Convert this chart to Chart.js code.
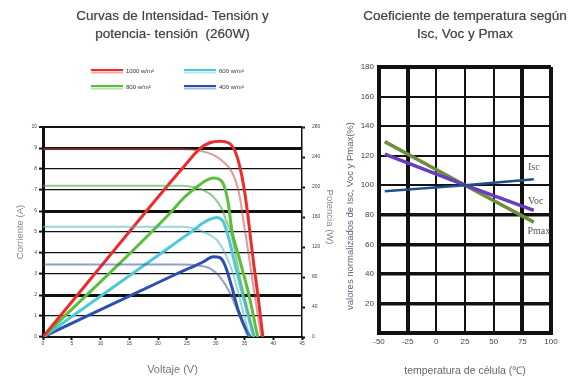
<!DOCTYPE html>
<html><head><meta charset="utf-8">
<script src="https://cdn.jsdelivr.net/npm/chart.js@4.4.1/dist/chart.umd.min.js"></script>
<style>
body{margin:0;background:#fff;}
#wrap{position:relative;width:569px;height:381px;overflow:hidden;background:#fff}
canvas{position:absolute;top:0}
.title{position:absolute;text-align:center;font-family:'Liberation Sans',Arial,sans-serif;font-size:13.5px;line-height:18px;color:#454545;white-space:nowrap;text-shadow:0 0 1px #888}
</style></head><body>
<div id="wrap">
<canvas id="c1" width="345" height="381" style="left:0"></canvas>
<canvas id="c2" width="239" height="381" style="left:330px"></canvas>
<div class="title" style="left:0;width:345px;top:6.5px">Curvas de Intensidad- Tensión y<br>potencia- tensión&nbsp; (260W)</div>
<div class="title" style="left:330px;width:270px;top:6.5px">Coeficiente de temperatura según<br>Isc, Voc y Pmax</div>
</div>
<script>
// ---------- Left chart data (I-V and P-V curves) ----------
const irradiance = ['1000 w/m²', '600 w/m²', '800 w/m²', '400 w/m²'];

const vI1000 = [0, 24, 27.3, 29.6, 31.3, 32.8, 33.6, 34.3, 34.8, 35.2, 36.5, 37.9];
const i1000  = [8.95, 8.95, 8.87, 8.67, 8.35, 7.87, 7.32, 6.52, 5.57, 4.9, 2.5, 0];
const vP1000 = [0, 22, 24.9, 27.3, 29.0, 30.7, 32.2, 33.3, 34.2, 34.9, 35.5, 36.0, 36.6, 37.4, 38.2];
const p1000  = [0, 205, 231, 251.6, 259, 261, 259, 249, 227, 200, 168, 136, 98, 52, 0];

const vI800 = [0, 24, 25.5, 27.8, 29.6, 31.0, 31.9, 32.6, 34.5, 36.8];
const i800  = [7.2, 7.2, 7.17, 7.0, 6.68, 6.13, 5.49, 5.0, 2.5, 0];
const vP800 = [0, 22.05, 24.4, 26.7, 28.4, 29.6, 30.7, 31.4, 32.2, 32.8, 34.0, 35.9, 37.3];
const p800  = [0, 165, 185, 200, 209, 212, 210, 203, 178, 143, 108, 52, 0];

const vI600 = [0, 24, 26.5, 28.4, 30.2, 31.6, 32.8, 34.4, 35.9];
const i600  = [5.25, 5.25, 5.15, 4.94, 4.62, 4.0, 3.2, 1.6, 0];
const vP600 = [0, 22.05, 24.4, 26.1, 27.6, 29.0, 30.1, 31.3, 32.2, 33.6, 35.4, 36.6];
const p600  = [0, 120, 133, 142, 151, 157, 159.5, 154, 134, 89, 36, 0];

const vI400 = [0, 24, 26.7, 29.0, 30.7, 32.5, 34.2, 35.6];
const i400  = [3.45, 3.45, 3.42, 3.27, 2.87, 2.08, 0.97, 0];
const vP400 = [0, 22.05, 25.5, 27.8, 29.6, 30.7, 31.6, 32.8, 33.9, 35.1, 36.0];
const p400  = [0, 80, 92, 100, 107, 106, 96, 67, 36, 13, 0];

const xTicksLeft = {min: 0, max: 45, step: 5};
const yTicksLeft = {min: 0, max: 10, step: 1};
const y2TicksLeft = {min: 0, max: 280, step: 40};
const thickRows = [9, 6, 2];

// ---------- Right chart data (temperature coefficients) ----------
const temps = [-45, 25, 85];
const iscVals  = [96, 100, 104];
const vocVals  = [121, 100, 83];
const pmaxVals = [129.5, 100, 75];
const seriesNames = ['Isc', 'Voc', 'Pmax'];
const xTicksRight = {min: -50, max: 100, step: 25};
const yTicksRight = {min: 0, max: 180, step: 20};

Chart.defaults.font.family = "'Liberation Sans', Arial, sans-serif";

function pts(xs, ys){ return xs.map((x,i)=>({x:x, y:ys[i]})); }
function ds(xs, ys, axis, color, w, label){
  return {label: label||'', data: pts(xs, ys), yAxisID: axis, borderColor: color, borderWidth: w,
          pointRadius: 0, fill: false, cubicInterpolationMode: 'monotone'};
}

const colors = {
  r: ['#ee2b2b', 'rgba(200,70,70,0.55)', '#f5aaaa'],
  c: ['#4fc9d9', 'rgba(70,180,195,0.55)', '#b5e6ee'],
  g: ['#5cbf3c', 'rgba(80,165,75,0.6)', '#b8e0a8'],
  b: ['#2a4fb0', 'rgba(60,80,150,0.55)', '#a9b4dc']
};

const legendPlugin = {
  id: 'lg',
  afterDraw(chart){
    const ctx = chart.ctx;
    const items = [
      [91, 71, colors.r, irradiance[0]],
      [184, 71, colors.c, irradiance[1]],
      [91, 87, colors.g, irradiance[2]],
      [184, 87, colors.b, irradiance[3]]
    ];
    ctx.save();
    items.forEach(([x, y, col, txt]) => {
      ctx.fillStyle = col[0]; ctx.fillRect(x, y - 2, 32, 2);
      ctx.fillStyle = col[2]; ctx.fillRect(x, y + 0.5, 32, 2);
      ctx.fillStyle = '#333'; ctx.font = "6px 'Liberation Sans', Arial";
      ctx.textBaseline = 'middle'; ctx.textAlign = 'left';
      ctx.fillText(txt, x + 35, y);
    });
    // right axis title
    ctx.translate(330, 217); ctx.rotate(Math.PI/2);
    ctx.fillStyle = '#888'; ctx.font = "9.5px 'Liberation Sans', Arial";
    ctx.textAlign = 'center'; ctx.textBaseline = 'middle';
    ctx.fillText('Potencia (W)', 0, 0);
    ctx.restore();
  }
};

new Chart(document.getElementById('c1'), {
  type: 'line',
  data: { datasets: [
    ds(vI1000, i1000, 'y', colors.r[1], 2),
    ds(vI800, i800, 'y', colors.g[1], 2),
    ds(vI600, i600, 'y', colors.c[1], 2),
    ds(vI400, i400, 'y', colors.b[1], 2),
    ds(vP1000, p1000, 'y2', colors.r[0], 3, irradiance[0]),
    ds(vP800, p800, 'y2', colors.g[0], 3, irradiance[2]),
    ds(vP600, p600, 'y2', colors.c[0], 3, irradiance[1]),
    ds(vP400, p400, 'y2', colors.b[0], 3, irradiance[3])
  ]},
  options: {
    responsive: false, devicePixelRatio: 1, animation: false,
    layout: { padding: { top: 127, left: 0, right: 0, bottom: 0 } },
    plugins: { legend: { display: false }, tooltip: { enabled: false } },
    scales: {
      x: { type: 'linear', min: xTicksLeft.min, max: xTicksLeft.max,
           ticks: { stepSize: xTicksLeft.step, font: { size: 5 }, color: '#444', padding: 1, maxRotation: 0 },
           grid: { drawOnChartArea: false, tickLength: 3, tickWidth: 2, color: '#111' },
           border: { color: '#111', width: 2 },
           title: { display: true, text: 'Voltaje (V)', font: { size: 11 }, color: '#777', padding: { top: 0, bottom: 4 } },
           afterFit(s){ s.height = 44; } },
      y: { type: 'linear', position: 'left', min: yTicksLeft.min, max: yTicksLeft.max,
           ticks: { stepSize: yTicksLeft.step, font: { size: 5 }, color: '#444', padding: 2 },
           grid: { color: '#111', tickLength: 4, tickWidth: 2,
                   lineWidth: c => thickRows.includes(c.tick.value) ? 3 : (c.tick.value === 10 ? 2 : 1.2) },
           border: { color: '#111', width: 3 },
           title: { display: true, text: 'Corriente (A)', font: { size: 9.5 }, color: '#888', padding: { top: 14.3, bottom: 0 } },
           afterFit(s){ s.width = 43; } },
      y2: { type: 'linear', position: 'right', min: y2TicksLeft.min, max: y2TicksLeft.max,
            ticks: { stepSize: y2TicksLeft.step, font: { size: 5 }, color: '#444', padding: 7 },
            grid: { drawOnChartArea: false, tickLength: 3, tickWidth: 2, color: '#111' },
            border: { color: '#111', width: 1.5 },
            afterFit(s){ s.width = 43; } }
    }
  },
  plugins: [legendPlugin]
});

const rightPlugin = {
  id: 'rt',
  afterDraw(chart){
    const ctx = chart.ctx;
    ctx.save();
    // series labels near line ends
    const offs = [[0, -12], [2, -9], [5, 9]];
    ctx.font = "10px 'Liberation Serif', 'Times New Roman', serif";
    ctx.fillStyle = '#555'; ctx.textAlign = 'center'; ctx.textBaseline = 'middle';
    [0, 1, 2].forEach(i => {
      const meta = chart.getDatasetMeta(i);
      const p = meta.data[meta.data.length - 1];
      ctx.fillText(seriesNames[i], p.x + offs[i][0], p.y + offs[i][1]);
    });
    // y axis title
    ctx.translate(20, 216); ctx.rotate(-Math.PI/2);
    ctx.font = "9.5px 'Liberation Sans', Arial";
    ctx.fillStyle = '#5a6478';
    ctx.fillText('valores normalizados de Isc, Voc y Pmax(%)', 0, 0);
    ctx.restore();
  }
};

new Chart(document.getElementById('c2'), {
  type: 'line',
  data: { datasets: [
    { label: seriesNames[0], data: pts(temps, iscVals), borderColor: '#20508a', borderWidth: 2.5, pointRadius: 0 },
    { label: seriesNames[1], data: pts(temps, vocVals), borderColor: '#6a3cc0', borderWidth: 3.5, pointRadius: 0 },
    { label: seriesNames[2], data: pts(temps, pmaxVals), borderColor: '#6b8f3e', borderWidth: 3.5, pointRadius: 0 }
  ]},
  options: {
    responsive: false, devicePixelRatio: 1, animation: false,
    layout: { padding: { top: 67, right: 18, left: 0, bottom: 0 } },
    plugins: { legend: { display: false }, tooltip: { enabled: false } },
    scales: {
      x: { type: 'linear', min: xTicksRight.min, max: xTicksRight.max,
           ticks: { stepSize: xTicksRight.step, font: { size: 8 }, color: '#444', padding: 4, maxRotation: 0 },
           grid: { drawTicks: false, color: '#111',
                   lineWidth: c => [-50, -25, 75, 100].includes(c.tick.value) ? 4 : 2 },
           border: { color: '#111', width: 4 },
           title: { display: true, text: 'temperatura de célula (℃)', font: { size: 10.5 }, color: '#666', padding: { top: 0, bottom: 4 } },
           afterFit(s){ s.height = 48; } },
      y: { type: 'linear', min: yTicksRight.min, max: yTicksRight.max,
           ticks: { stepSize: yTicksRight.step, font: { size: 8 }, color: '#444', padding: 5,
                    callback: v => v === 0 ? '' : v },
           grid: { drawTicks: false, color: '#111',
                   lineWidth: c => { const v = c.tick.value; return (v === 0 || v === 180) ? 4 : (v <= 80 ? 3.5 : 2); } },
           border: { color: '#111', width: 4 },
           afterFit(s){ s.width = 49; } }
    }
  },
  plugins: [rightPlugin]
});
</script>
</body></html>
